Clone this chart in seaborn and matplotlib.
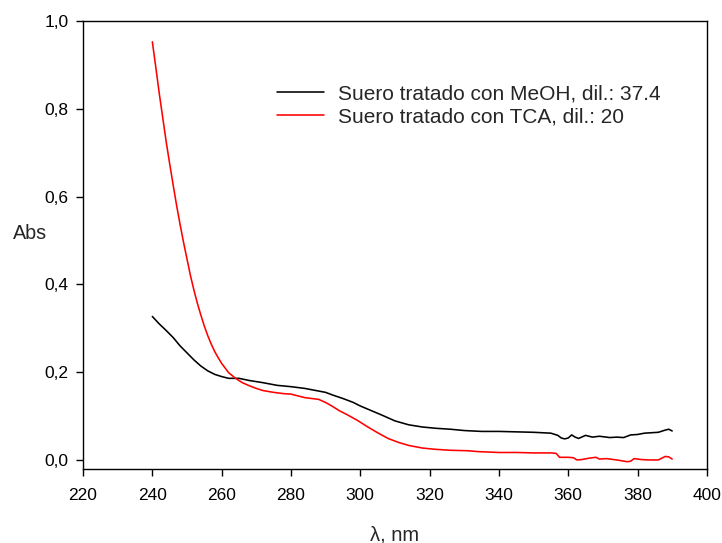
import pandas as pd
import matplotlib
matplotlib.use("Agg")
import matplotlib.pyplot as plt
import seaborn as sns

# Espectro del suero tratado con MeOH (dil. 37.4)
lam_meoh = [240, 242, 244, 246, 248, 250, 252, 254, 256, 258, 260, 262, 265, 268,
            272, 276, 280, 284, 288, 290, 292, 295, 298, 300, 303, 306, 310, 314,
            318, 322, 326, 330, 335, 340, 345, 350, 355, 357, 358, 359, 360, 361,
            362, 363, 365, 367, 369, 372, 374, 376, 378, 380, 382, 384, 386, 388,
            389, 390]
abs_meoh = [0.327, 0.31, 0.295, 0.279, 0.26, 0.244, 0.228, 0.214, 0.203, 0.195,
            0.19, 0.186, 0.186, 0.181, 0.176, 0.170, 0.167, 0.163, 0.157, 0.154,
            0.148, 0.140, 0.131, 0.123, 0.113, 0.103, 0.089, 0.080, 0.075, 0.072,
            0.070, 0.067, 0.065, 0.065, 0.064, 0.063, 0.061, 0.056, 0.050, 0.048,
            0.050, 0.057, 0.052, 0.049, 0.056, 0.052, 0.054, 0.051, 0.052, 0.051,
            0.057, 0.058, 0.061, 0.062, 0.063, 0.068, 0.070, 0.066]

# Espectro del suero tratado con TCA (dil. 20)
lam_tca = [240, 241, 242, 243, 244, 245, 246, 247, 248, 249, 250, 251, 252, 253,
           254, 255, 256, 257, 258, 259, 260, 262, 264, 266, 268, 270, 272, 275,
           278, 280, 282, 284, 286, 288, 290, 292, 294, 296, 299, 302, 305, 308,
           311, 314, 318, 322, 326, 331, 334, 340, 345, 350, 355, 356.5, 357.5,
           360, 361.5, 362.5, 364, 366, 368, 369, 371, 374, 377, 378, 379, 381,
           383, 386, 387, 388, 389, 390]
abs_tca = [0.953, 0.895, 0.835, 0.78, 0.725, 0.675, 0.627, 0.58, 0.537, 0.496,
           0.458, 0.42, 0.387, 0.357, 0.33, 0.305, 0.283, 0.264, 0.247, 0.233,
           0.22, 0.199, 0.186, 0.176, 0.169, 0.163, 0.158, 0.154, 0.151, 0.150,
           0.146, 0.142, 0.140, 0.138, 0.131, 0.122, 0.112, 0.104, 0.091, 0.076,
           0.062, 0.049, 0.040, 0.033, 0.027, 0.024, 0.022, 0.021, 0.019, 0.017,
           0.017, 0.016, 0.016, 0.015, 0.006, 0.006, 0.005, 0.0, 0.001, 0.004,
           0.006, 0.002, 0.003, 0.0, -0.004, -0.003, 0.003, 0.001, 0.0, 0.0,
           0.004, 0.008, 0.007, 0.002]

lab_meoh = "Suero tratado con MeOH, dil.: 37.4"
lab_tca = "Suero tratado con TCA, dil.: 20"

x_ticks = [220, 240, 260, 280, 300, 320, 340, 360, 380, 400]
y_ticks = [0.0, 0.2, 0.4, 0.6, 0.8, 1.0]
y_tick_labels = ["0,0", "0,2", "0,4", "0,6", "0,8", "1,0"]

df = pd.concat([
    pd.DataFrame({"lam": lam_meoh, "abs": abs_meoh, "muestra": lab_meoh}),
    pd.DataFrame({"lam": lam_tca, "abs": abs_tca, "muestra": lab_tca}),
])

sns.set_style("ticks")
plt.rcParams["font.family"] = ["Liberation Sans", "DejaVu Sans"]

fig = plt.figure(figsize=(7.22, 5.43), dpi=100)
ax = fig.add_axes([0.115, 0.136, 0.864, 0.825])

sns.lineplot(data=df, x="lam", y="abs", hue="muestra", estimator=None,
             palette={lab_meoh: "black", lab_tca: "red"}, linewidth=1.15, ax=ax)

ax.set_xlim(220, 400)
ax.set_ylim(-0.021, 1.0)
ax.set_xticks(x_ticks)
ax.set_xticklabels([str(t) for t in x_ticks])
ax.set_yticks(y_ticks)
ax.set_yticklabels(y_tick_labels)
ax.tick_params(direction="out", length=5, width=1, labelsize=12.5, colors="black")
ax.tick_params(axis="x", pad=8.5)
ax.tick_params(axis="y", pad=5.5)
for s in ax.spines.values():
    s.set_linewidth(1.0)
    s.set_color("black")

ax.set_xlabel("λ, nm", fontsize=14.5, labelpad=16)
ax.set_ylabel("Abs", fontsize=14.2, rotation=0, va="center", ha="center")
ax.yaxis.set_label_coords(-0.085, 0.527)

ax.legend(title=None, frameon=False, loc="center left",
          bbox_to_anchor=(0.311, 0.812), fontsize=15,
          handlelength=2.26, handletextpad=0.67, labelspacing=0.17,
          borderpad=0, borderaxespad=0)

fig.savefig("out.png", dpi=100)
